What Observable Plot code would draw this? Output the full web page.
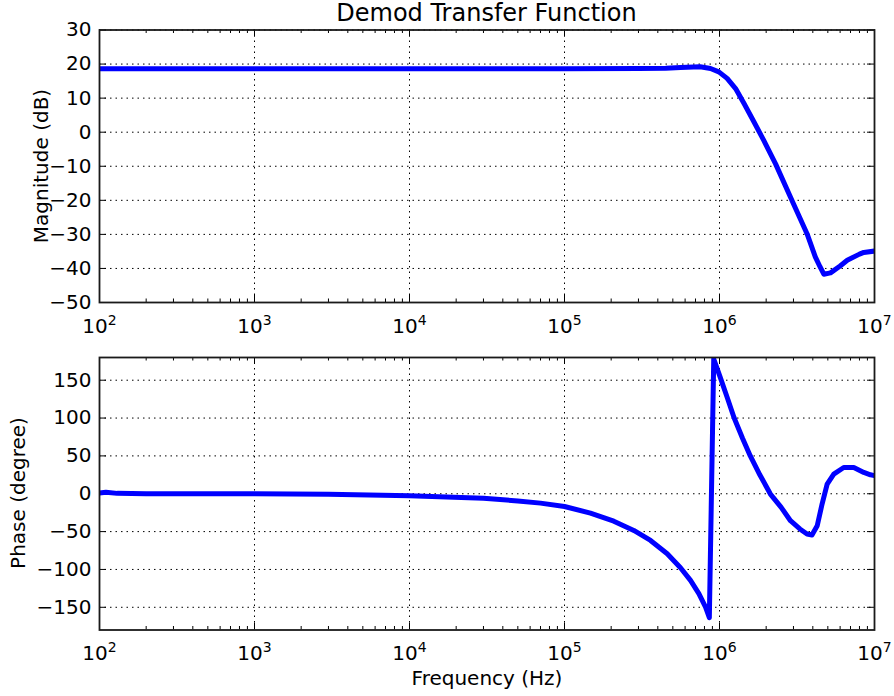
<!DOCTYPE html>
<html>
<head>
<meta charset="utf-8">
<script src="https://cdn.jsdelivr.net/npm/d3@7"></script>
<script src="https://cdn.jsdelivr.net/npm/@observablehq/plot@0.6"></script>
<style>
  html, body { margin: 0; padding: 0; background: #fff; }
  #root { position: relative; width: 894px; height: 696px; background: #fff; overflow: hidden; }
  #root > svg { position: absolute; left: 0; }
</style>
</head>
<body>
<div id="root"></div>
<script>
// ---------------- data ----------------
const titleText = "Demod Transfer Function";
const xLabelText = "Frequency (Hz)";
const magLabelText = "Magnitude (dB)";
const phaseLabelText = "Phase (degree)";

const xMajorTicks = [1e2, 1e3, 1e4, 1e5, 1e6, 1e7];
const magTicks = [-50, -40, -30, -20, -10, 0, 10, 20, 30];
const phaseTicks = [-150, -100, -50, 0, 50, 100, 150];
const magDomain = [-50, 30];
const phaseDomain = [-180, 180];

const magFreq = [1e2, 1e3, 1e4, 1e5, 3e5, 4.5e5, 5.6e5, 7.5e5, 8.75e5, 9.9e5, 1.12e6, 1.27e6,
                 1.44e6, 1.67e6, 1.93e6, 2.3e6, 3.0e6, 3.67e6, 4.15e6, 4.45e6, 4.71e6, 5.2e6,
                 6e6, 6.67e6, 8e6, 8.53e6, 1e7];
const magDb   = [18.6, 18.6, 18.6, 18.6, 18.7, 18.8, 19.0, 19.2, 18.7, 17.7, 15.8, 12.8,
                 8.4, 3.0, -2.4, -9.3, -21.0, -29.8, -36.6, -39.5, -41.7, -41.3,
                 -39.3, -37.6, -35.8, -35.3, -34.9];

const phaseFreq = [1e2, 1.1e2, 1.3e2, 2e2, 1e3, 3e3, 1e4, 3e4, 5e4, 7e4, 1e5, 1.47e5, 2.08e5,
                   2.8e5, 3.59e5, 4.6e5, 5.6e5, 6.5e5, 7.36e5, 8.13e5, 8.6e5, 9.18e5, 1.01e6,
                   1.12e6, 1.24e6, 1.41e6, 1.58e6, 1.82e6, 2.13e6, 2.5e6, 2.87e6, 3.3e6, 3.67e6,
                   3.95e6, 4.27e6, 4.59e6, 4.95e6, 5.46e6, 6.33e6, 7.35e6, 8.53e6, 9.42e6, 1e7];
const phaseDeg  = [1, 2, 0.5, 0, 0, -0.5, -2.5, -6, -9.5, -12.4, -16.8, -25.6, -36.2,
                   -48.5, -61.7, -79.2, -97.7, -114.5, -132, -149.7, -163.7, 178, 154,
                   127.5, 100.7, 73, 50, 25, -0.4, -18, -35.6, -46.5, -53.2,
                   -54.5, -42.2, -13.6, 12.8, 26, 34.7, 34.7, 28.1, 25, 24.1];

// ---------------- helpers ----------------
const W = 894, ML = 99, MR = 20;
const innerW = W - ML - MR;
const xMinorTicks = d3.range(2, 7).flatMap(k => d3.range(2, 10).map(m => m * Math.pow(10, k)));
const fmtNum = d => (d < 0 ? "\u2212" + Math.abs(d) : String(d));

function panel({rows, yDomain, yTicks, height, marginTop, marginBottom}) {
  const innerH = height - marginTop - marginBottom;
  const gridStyle = {stroke: "black", strokeOpacity: 1, strokeWidth: 1, strokeDasharray: "1.5,4"};
  const tickStyle = {stroke: "black", strokeWidth: 1};
  const svg = Plot.plot({
    width: W, height,
    marginLeft: ML, marginRight: MR, marginTop, marginBottom,
    style: {fontFamily: "'DejaVu Sans'", fontSize: "20px", color: "black", background: "transparent", overflow: "visible"},
    x: {type: "log", domain: [1e2, 1e7]},
    y: {domain: yDomain},
    marks: [
      Plot.gridX(xMajorTicks, gridStyle),
      Plot.gridY(yTicks, gridStyle),
      Plot.ruleX(xMajorTicks, {...tickStyle, insetTop: innerH - 7}),
      Plot.ruleX(xMajorTicks, {...tickStyle, insetBottom: innerH - 7}),
      Plot.ruleX(xMinorTicks, {...tickStyle, insetTop: innerH - 3.5}),
      Plot.ruleX(xMinorTicks, {...tickStyle, insetBottom: innerH - 3.5}),
      Plot.ruleY(yTicks, {...tickStyle, insetRight: innerW - 7}),
      Plot.ruleY(yTicks, {...tickStyle, insetLeft: innerW - 7}),
      Plot.line(rows, {x: "f", y: "v", stroke: "#0000ff", strokeWidth: 5, clip: true}),
      Plot.frame({stroke: "#1a1a1a", strokeWidth: 1.8}),
      Plot.axisX(xMajorTicks, {tickSize: 0, tickPadding: 16, label: null,
        tickFormat: d => "10^" + Math.round(Math.log10(d))}),
      Plot.axisY(yTicks, {tickSize: 0, tickPadding: 8, label: null, tickFormat: fmtNum})
    ]
  });
  // superscript exponents on the x tick labels
  const ns = "http://www.w3.org/2000/svg";
  svg.querySelectorAll('g[aria-label="x-axis tick label"] text').forEach(t => {
    const s = t.textContent;
    if (!s.includes("^")) return;
    const [b, e] = s.split("^");
    t.textContent = "";
    const t1 = document.createElementNS(ns, "tspan");
    t1.textContent = b;
    const t2 = document.createElementNS(ns, "tspan");
    t2.setAttribute("dy", "-8");
    t2.setAttribute("font-size", "14");
    t2.textContent = e;
    t.append(t1, t2);
  });
  return svg;
}

const root = document.getElementById("root");

const magRows = magFreq.map((f, i) => ({f, v: magDb[i]}));
const phaseRows = phaseFreq.map((f, i) => ({f, v: phaseDeg[i]}));

const magSvg = panel({rows: magRows, yDomain: magDomain, yTicks: magTicks, height: 336, marginTop: 29.5, marginBottom: 34});
magSvg.style.top = "0px";
root.appendChild(magSvg);

const phaseSvg = panel({rows: phaseRows, yDomain: phaseDomain, yTicks: phaseTicks, height: 360, marginTop: 21, marginBottom: 66.5});
phaseSvg.style.top = "336px";
root.appendChild(phaseSvg);

// overlay with title and axis titles
const ov = d3.create("svg")
  .attr("width", W).attr("height", 696)
  .style("top", "0px").style("pointer-events", "none")
  .style("font-family", "'DejaVu Sans'").attr("fill", "black");
ov.append("text").attr("x", 486.5).attr("y", 21).attr("text-anchor", "middle")
  .attr("font-size", 24).text(titleText);
ov.append("text").attr("x", 487).attr("y", 685).attr("text-anchor", "middle")
  .attr("font-size", 20).text(xLabelText);
ov.append("text").attr("transform", "translate(48,166) rotate(-90)").attr("text-anchor", "middle")
  .attr("font-size", 20).text(magLabelText);
ov.append("text").attr("transform", "translate(25,493) rotate(-90)").attr("text-anchor", "middle")
  .attr("font-size", 20).text(phaseLabelText);
root.appendChild(ov.node());
</script>
</body>
</html>
